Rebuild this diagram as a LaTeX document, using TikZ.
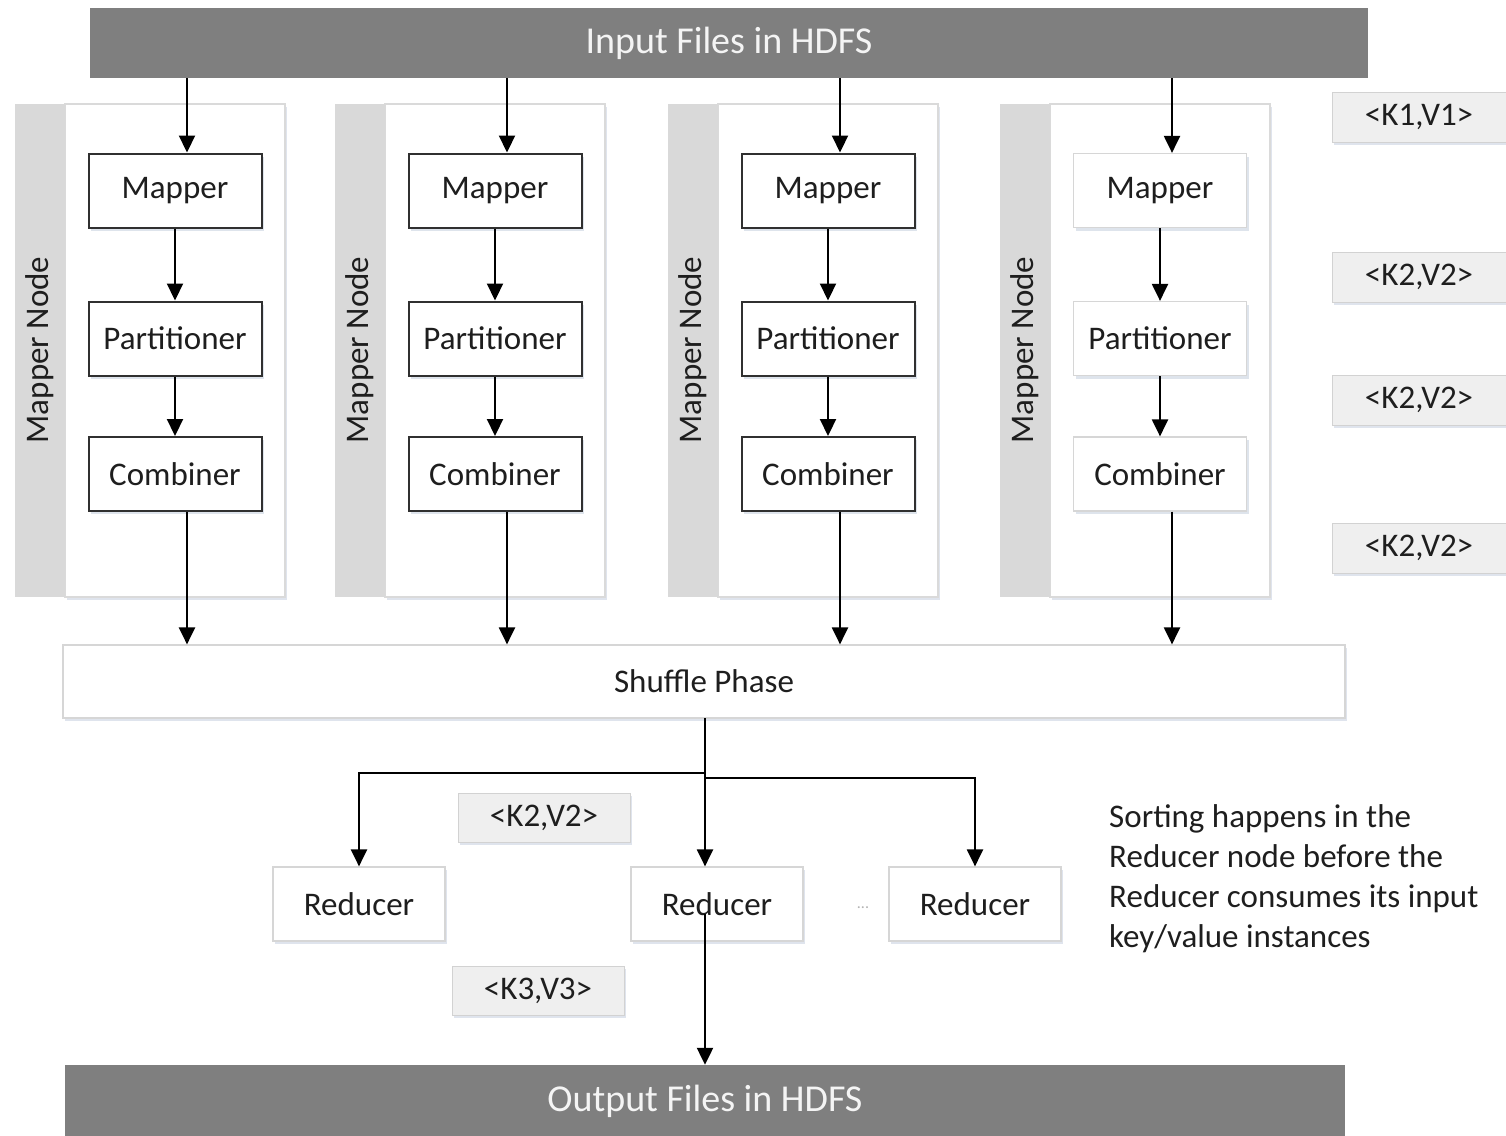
\documentclass[tikz,border=0pt]{standalone}
\usepackage{fontspec}
\setmainfont{Carlito}
\usetikzlibrary{arrows.meta,shadows,calc}
\definecolor{barc}{HTML}{7F7F7F}
\definecolor{bartext}{HTML}{F4F4F4}
\definecolor{stripc}{HTML}{D9D9D9}
\definecolor{hostline}{HTML}{DADADA}
\definecolor{boxline}{HTML}{303030}
\definecolor{softline}{HTML}{D6D6D6}
\definecolor{kvfill}{HTML}{EFEFEF}
\definecolor{kvline}{HTML}{D2D2D2}
\definecolor{inkc}{HTML}{1E1E1E}
\definecolor{shadowc}{HTML}{B8C4D6}
\begin{document}
\begin{tikzpicture}[x=1pt,y=-1pt,
  every node/.style={inner sep=0pt, text=inkc, font=\fontsize{33}{40}\selectfont},
  soft/.style={drop shadow={shadow xshift=2pt, shadow yshift=-3pt, fill=shadowc, opacity=0.45}},
  bar/.style={fill=barc, draw=none, text=bartext, font=\fontsize{38}{42}\selectfont},
  strip/.style={fill=stripc, draw=none},
  host/.style={fill=white, draw=hostline, line width=1.2pt},
  stage/.style={draw=boxline, line width=2pt, fill=white, soft,
                minimum width=173pt, minimum height=74pt},
  lightstage/.style={draw=softline, line width=1.2pt, fill=white, soft,
                minimum width=173pt, minimum height=74pt},
  kv/.style={fill=kvfill, draw=kvline, line width=1pt, soft,
             minimum width=174pt, minimum height=50pt},
  arr/.style={line width=2.2pt, draw=black, -{Triangle[length=17pt,width=16pt]}},
  link/.style={line width=2.2pt, draw=black}]

\useasboundingbox (0,0) rectangle (1506,1135);

% input and output stores
\node[bar, minimum width=1278pt, minimum height=70pt] (in) at (729,43) {Input Files in HDFS};
\node[bar, minimum width=1280pt, minimum height=72pt] (out) at (705,1101) {Output Files in HDFS};

% four mapper nodes
\foreach \i/\x/\st in {1/15/stage, 2/335/stage, 3/668/stage, 4/1000/lightstage} {
  \path[host, soft] (\x+50,104) rectangle (\x+270,597);
  \path[strip] (\x,104) rectangle (\x+50,597);
  \node[rotate=90] (mn\i) at (\x+25,350) {Mapper Node};
  \node[\st] (map\i) at (\x+160,190.5) {Mapper};
  \node[\st] (par\i) at (\x+160,338.5) {Partitioner};
  \node[\st] (com\i) at (\x+160,474) {Combiner};
  \coordinate (feed\i) at (\x+172,0);
}

% shuffle phase
\node[draw=softline, line width=1.2pt, fill=white, soft,
      minimum width=1282pt, minimum height=73pt] (shuf) at (704,681.5) {Shuffle Phase};

% flow through each mapper node
\foreach \i in {1,2,3,4} {
  \draw[arr] (in.south -| feed\i) -- (map\i.north -| feed\i);
  \draw[arr] (map\i) -- (par\i);
  \draw[arr] (par\i) -- (com\i);
  \draw[arr] (com\i.south -| feed\i) -- (shuf.north -| feed\i);
}

% reducers
\node[lightstage, minimum width=172pt] (r1) at (359,904) {Reducer};
\node[lightstage, minimum width=172pt] (r2) at (717,904) {Reducer};
\node[lightstage, minimum width=172pt] (r3) at (975,904) {Reducer};
\node[font=\fontsize{16}{16}\selectfont, text=gray!60] (dots) at (863,908) {...};

\coordinate (split) at (705,718);
\draw[arr] (split) -- (split |- r2.north);
\draw[arr] ($(split)+(0,55)$) -| (r1.north);
\draw[arr] ($(split)+(0,60)$) -| (r3.north);
\coordinate (rout) at (705,914);
\draw[arr] (rout) -- (rout |- out.north);

% key/value labels
\node[kv] (kv1) at (1419,117) {<K1,V1>};
\node[kv] (kv2) at (1419,277) {<K2,V2>};
\node[kv] (kv3) at (1419,400) {<K2,V2>};
\node[kv] (kv4) at (1419,548) {<K2,V2>};
\node[kv, minimum width=172pt, minimum height=49pt] (kv5) at (544,817.5) {<K2,V2>};
\node[kv, minimum width=172pt, minimum height=49pt] (kv6) at (538,990.5) {<K3,V3>};

% note on sorting
\node[anchor=west, align=left, font=\fontsize{33}{40}\selectfont] (note) at (1109,879)
  {Sorting happens in the\\Reducer node before the\\Reducer consumes its input\\key/value instances};
\end{tikzpicture}
\end{document}
